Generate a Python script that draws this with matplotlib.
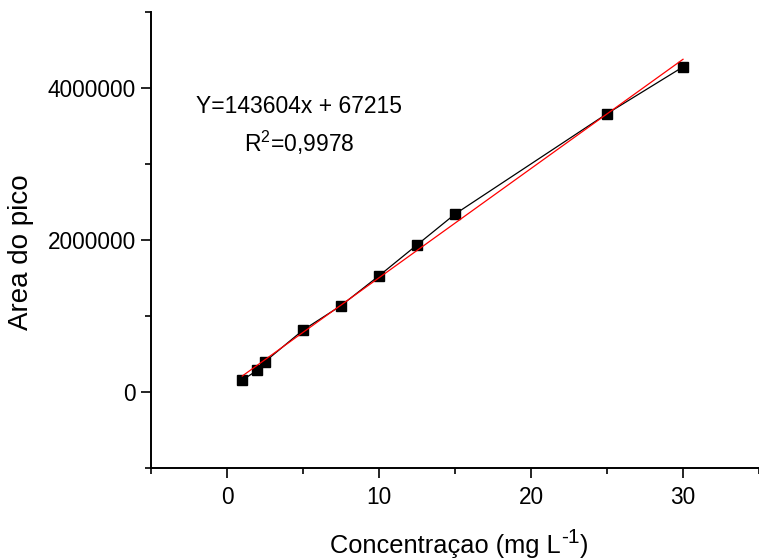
import matplotlib
matplotlib.use("Agg")
import matplotlib.pyplot as plt
from matplotlib.ticker import MultipleLocator, FixedLocator, FuncFormatter
import numpy as np

# Data
conc = [1, 2, 2.5, 5, 7.5, 10, 12.5, 15, 25, 30]
area = [157000, 288000, 401000, 815000, 1137000, 1529000, 1935000, 2340000, 3660000, 4275000]
slope = 143604
intercept = 67215
eq_text = "Y=143604x + 67215"
r2_text = "R$^{2}$=0,9978"
xlabel_main = "Concentraçao (mg L"
xlabel_sup = "-1"
xlabel_end = ")"
ylabel = "Area do pico"
xticks = [0, 10, 20, 30]
yticks = [0, 2000000, 4000000]

plt.rcParams['font.family'] = ['Liberation Sans', 'DejaVu Sans']
plt.rcParams['mathtext.fontset'] = 'custom'
plt.rcParams['mathtext.rm'] = 'Liberation Sans'
plt.rcParams['mathtext.it'] = 'Liberation Sans'
plt.rcParams['mathtext.default'] = 'regular'

W, H = 759, 560
fig = plt.figure(figsize=(W / 100, H / 100), dpi=100)
ax = fig.add_axes([0.199, 0.164, 0.801, 0.815])

ax.plot(conc, area, color='black', lw=0.9, marker='s', ms=6.8, mfc='black', mec='black', zorder=3)
xf = np.array([min(conc), max(conc)])
ax.plot(xf, slope * xf + intercept, color='red', lw=0.9, zorder=4)

ax.set_xlim(-5, 35)
ax.set_ylim(-1000000, 5000000)

ax.spines['top'].set_visible(False)
ax.spines['right'].set_visible(False)
for s in ('left', 'bottom'):
    ax.spines[s].set_linewidth(1.4)

ax.xaxis.set_major_locator(FixedLocator(xticks))
ax.xaxis.set_minor_locator(MultipleLocator(5))
ax.yaxis.set_major_locator(FixedLocator(yticks))
ax.yaxis.set_minor_locator(MultipleLocator(1000000))
ax.yaxis.set_major_formatter(FuncFormatter(lambda v, p: f"{int(round(v))}"))
ax.xaxis.set_major_formatter(FuncFormatter(lambda v, p: f"{int(round(v))}"))

ax.tick_params(which='major', direction='out', length=7, width=1.2, labelsize=16.3)
ax.tick_params(axis='y', which='major', pad=4)
ax.tick_params(axis='x', which='major', pad=6)
ax.tick_params(which='minor', direction='out', length=4, width=1.2)

ax.set_ylabel(ylabel, fontsize=20)
ax.yaxis.set_label_coords(-0.193, 0.474)

ax.text(4.74, 3750000, eq_text, fontsize=16.5, ha='center', va='center')
ax.text(4.74, 3280000, r2_text, fontsize=16.5, ha='center', va='center')

# x label built from pieces so the superscript is a plain hyphen at a large size
renderer = fig.canvas.get_renderer()
base_y = (H - 553) / H
t1 = fig.text(0, base_y, xlabel_main, fontsize=18.3, va='baseline', ha='left')
t2 = fig.text(0, base_y + 10 / H, xlabel_sup, fontsize=15, va='baseline', ha='left')
t3 = fig.text(0, base_y, xlabel_end, fontsize=18.3, va='baseline', ha='left')
w1 = t1.get_window_extent(renderer).width
w2 = t2.get_window_extent(renderer).width
w3 = t3.get_window_extent(renderer).width
total = w1 + w2 + w3 + 1
start = 459.5 - total / 2
t1.set_x(start / W)
t2.set_x((start + w1) / W)
t3.set_x((start + w1 + w2 + 1) / W)

fig.savefig("out.png", dpi=100)
